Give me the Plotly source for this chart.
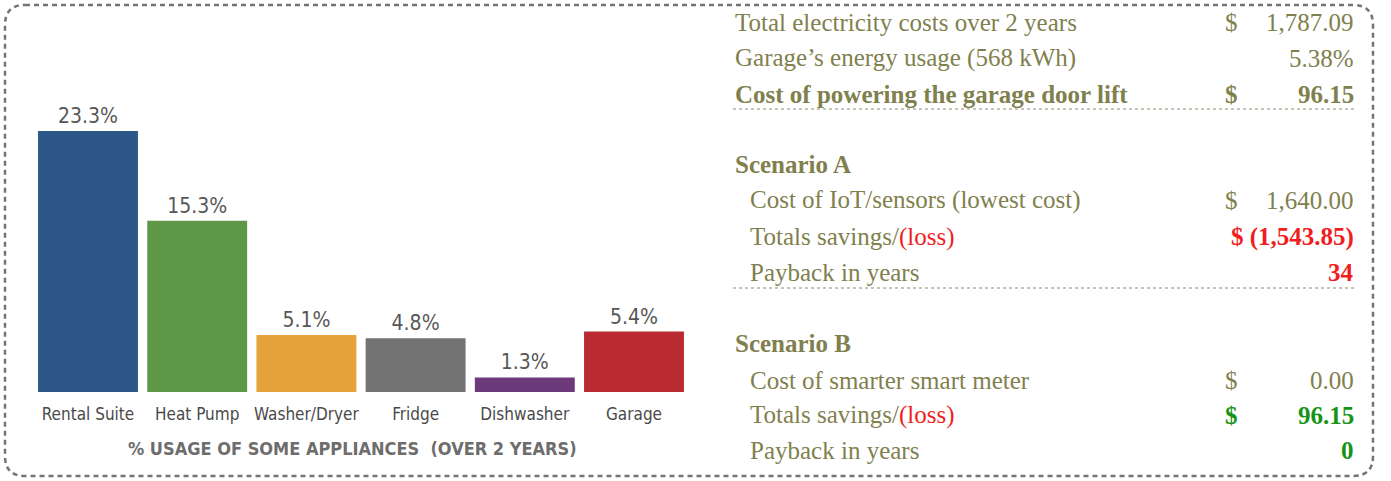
import plotly.graph_objects as go

# ---------------- data ----------------
categories = ["Rental Suite", "Heat Pump", "Washer/Dryer", "Fridge", "Dishwasher", "Garage"]
usage_pct = [23.3, 15.3, 5.1, 4.8, 1.3, 5.4]
bar_colors = ["#2d5789", "#5e9748", "#e6a33c", "#737373", "#6c3a7b", "#b92b30"]
chart_title = "% USAGE OF SOME APPLIANCES  (OVER 2 YEARS)"

summary_labels = ["Total electricity costs over 2 years",
                  "Garage’s energy usage (568 kWh)",
                  "Cost of powering the garage door lift"]
summary_currency = ["$", "", "$"]
summary_values = ["1,787.09", "5.38%", "96.15"]

scenario_labels = ["Cost of IoT/sensors (lowest cost)", "Totals savings/(loss)", "Payback in years"]
scenario_b_labels = ["Cost of smarter smart meter", "Totals savings/(loss)", "Payback in years"]
scenario_a_values = ["1,640.00", "(1,543.85)", "34"]
scenario_b_values = ["0.00", "96.15", "0"]

# ---------------- layout helpers ----------------
W, H = 1391, 481
def px(x): return x / W
def py(y): return 1 - y / H

OLIVE = "#80804e"
RED = "#f01e1e"
GREEN = "#179418"
SERIF = "Liberation Serif, Times New Roman, serif"
COND = "DejaVu Sans Condensed, sans-serif"

fig = go.Figure()
fig.add_trace(go.Bar(
    x=categories, y=usage_pct,
    marker=dict(color=bar_colors, line=dict(width=0)),
    texttemplate="%{y:.1f}%", textposition="outside", cliponaxis=False,
    textfont=dict(family=COND, size=21, color="#575757"),
    hoverinfo="skip",
))

ann = []
# chart title
ann.append(dict(x=px(352), y=py(448), xref="paper", yref="paper", text="<b>" + chart_title + "</b>",
                showarrow=False, xanchor="center", yanchor="middle",
                font=dict(family=COND, size=18, color="#6d6d6d")))

FS = 25
LBL_X, IND_X, CUR_X, VAL_X = 733, 748, 1231, 1356

def add_row(y, label, cur, val, lx, bold=False, val_color=OLIVE, cur_color=None, joined=False):
    b0, b1 = ("<b>", "</b>") if bold else ("", "")
    ann.append(dict(x=px(lx), y=py(y), xref="paper", yref="paper", text=label, showarrow=False,
                    xanchor="left", yanchor="middle", font=dict(family=SERIF, size=FS, color=OLIVE)))
    if joined:
        ann.append(dict(x=px(VAL_X), y=py(y), xref="paper", yref="paper", text=b0 + cur + " " + val + b1,
                        showarrow=False, xanchor="right", yanchor="middle",
                        font=dict(family=SERIF, size=FS, color=val_color)))
        return
    if cur:
        ann.append(dict(x=px(CUR_X), y=py(y), xref="paper", yref="paper", text=b0 + cur + b1,
                        showarrow=False, xanchor="center", yanchor="middle",
                        font=dict(family=SERIF, size=FS, color=cur_color or val_color)))
    ann.append(dict(x=px(VAL_X), y=py(y), xref="paper", yref="paper", text=b0 + val + b1,
                    showarrow=False, xanchor="right", yanchor="middle",
                    font=dict(family=SERIF, size=FS, color=val_color)))

def rich(label):
    return label.replace("(loss)", f"<span style='color:{RED}'>(loss)</span>")

summary_y = [22, 58, 94]
for i, (lab, cur, val) in enumerate(zip(summary_labels, summary_currency, summary_values)):
    bold = i == 2
    add_row(summary_y[i], ("<b>" + lab + "</b>") if bold else lab, cur, val, LBL_X, bold=bold)

# Scenario A
ann.append(dict(x=px(LBL_X), y=py(165), xref="paper", yref="paper", text="<b>Scenario A</b>", showarrow=False,
                xanchor="left", yanchor="middle", font=dict(family=SERIF, size=FS, color=OLIVE)))
a_y = [200, 237, 272]
add_row(a_y[0], scenario_labels[0], "$", scenario_a_values[0], IND_X)
add_row(a_y[1], rich(scenario_labels[1]), "$", scenario_a_values[1], IND_X, bold=True, val_color=RED, joined=True)
add_row(a_y[2], scenario_labels[2], "", scenario_a_values[2], IND_X, bold=True, val_color=RED)

# Scenario B
ann.append(dict(x=px(LBL_X), y=py(343), xref="paper", yref="paper", text="<b>Scenario B</b>", showarrow=False,
                xanchor="left", yanchor="middle", font=dict(family=SERIF, size=FS, color=OLIVE)))
b_y = [380, 415, 450]
add_row(b_y[0], scenario_b_labels[0], "$", scenario_b_values[0], IND_X)
add_row(b_y[1], rich(scenario_b_labels[1]), "$", scenario_b_values[1], IND_X, bold=True, val_color=GREEN)
add_row(b_y[2], scenario_b_labels[2], "", scenario_b_values[2], IND_X, bold=True, val_color=GREEN)

shapes = []
# rounded dashed border
L, R, T, B, r = 5, 1373, 5, 476, 20
path = (f"M {px(L+r)},{py(T)} L {px(R-r)},{py(T)} Q {px(R)},{py(T)} {px(R)},{py(T+r)} "
        f"L {px(R)},{py(B-r)} Q {px(R)},{py(B)} {px(R-r)},{py(B)} "
        f"L {px(L+r)},{py(B)} Q {px(L)},{py(B)} {px(L)},{py(B-r)} "
        f"L {px(L)},{py(T+r)} Q {px(L)},{py(T)} {px(L+r)},{py(T)} Z")
shapes.append(dict(type="path", path=path, xref="paper", yref="paper",
                   line=dict(color="#747474", width=2.5, dash="5px,4px")))
for ly in (109, 288):
    shapes.append(dict(type="line", xref="paper", yref="paper", x0=px(733), x1=px(1357), y0=py(ly), y1=py(ly),
                       line=dict(color="#8c8c70", width=1, dash="dot")))

pitch = 109.2
x_left = 88 - pitch / 2
x_right = 634 + pitch / 2
fig.update_layout(
    width=W, height=H, margin=dict(l=0, r=0, t=0, b=0),
    paper_bgcolor="white", plot_bgcolor="white", showlegend=False,
    bargap=0.085,
    xaxis=dict(domain=[px(x_left), px(x_right)], range=[-0.5, 5.5], showgrid=False, zeroline=False,
               showline=False, ticks="", ticklabelstandoff=10,
               tickfont=dict(family=COND, size=17, color="#4a4a4a"), fixedrange=True),
    yaxis=dict(domain=[py(392), py(392 - 11.2 * 25)], range=[0, 25], visible=False, showgrid=False,
               fixedrange=True),
    annotations=ann, shapes=shapes,
)

fig.write_html("out.html", post_script="document.body.style.margin='0';", config={"displayModeBar": False})
